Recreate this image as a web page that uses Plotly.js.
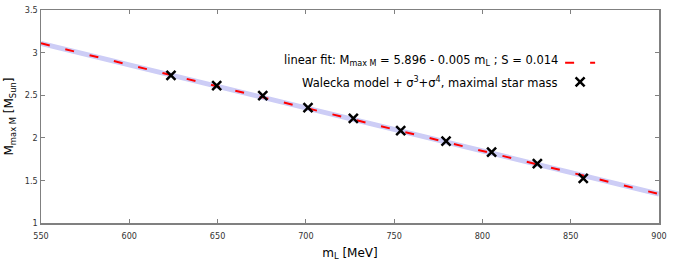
<!DOCTYPE html>
<html>
<head>
<meta charset="utf-8">
<script src="https://cdn.plot.ly/plotly-3.0.1.min.js"></script>
<style>html,body{margin:0;padding:0;background:#fff;}#chart{width:673px;height:269px;}</style>
</head>
<body>
<div id="chart"></div>
<script>
// Data
const mL = [623.6, 649.5, 675.6, 701.2, 726.9, 753.7, 779.4, 805.2, 831.1, 857.1];
const mMax = [2.733, 2.611, 2.494, 2.353, 2.229, 2.083, 1.962, 1.833, 1.696, 1.525];
const fitX = [550, 900];
const fitY = [3.109, 1.340];
const xTicks = [550, 600, 650, 700, 750, 800, 850, 900];
const yTicks = [1, 1.5, 2, 2.5, 3, 3.5];
const fitLabel = 'linear fit: M<sub>max M</sub> = 5.896 - 0.005 m<sub>L</sub> ; S = 0.014';
const pointLabel = 'Walecka model + σ<sup>3</sup>+σ<sup>4</sup>, maximal star mass';

const axisCommon = {
  showgrid: false, zeroline: false,
  showline: true, linecolor: '#808080', linewidth: 1.5, mirror: 'ticks',
  ticks: 'inside', ticklen: 4, tickcolor: '#808080', tickwidth: 1,
  tickfont: {family: 'DejaVu Sans Condensed, DejaVu Sans', size: 9, color: '#333'}
};

const traces = [
  {x: fitX, y: fitY, mode: 'lines', line: {color: '#cdcdf6', width: 5}, showlegend: false, hoverinfo: 'skip'},
  {x: fitX, y: fitY, mode: 'lines', name: ' ', line: {color: '#ff0000', width: 2, dash: '9px,16px'}},
  {x: mL, y: mMax, mode: 'markers', name: ' ',
   marker: {symbol: 'x-thin-open', size: 9, color: '#000', line: {color: '#000', width: 2.5}}}
];

const layout = {
  width: 673, height: 269,
  margin: {l: 41, r: 14, t: 10, b: 46},
  paper_bgcolor: '#fff', plot_bgcolor: '#fff',
  font: {family: 'DejaVu Sans, Liberation Sans', color: '#000'},
  xaxis: Object.assign({}, axisCommon, {
    range: [550, 900], tickvals: xTicks, ticktext: xTicks.map(String), ticklabelstandoff: 4,
    title: {text: 'm<sub>L</sub> [MeV]', font: {size: 12, color: '#000'}, standoff: 8}
  }),
  yaxis: Object.assign({}, axisCommon, {
    range: [1, 3.5], tickvals: yTicks, ticktext: yTicks.map(String),
    title: {text: 'M<sub>max M</sub> [M<sub>Sun</sub>]', font: {size: 12, color: '#000'}, standoff: 8}
  }),
  showlegend: true,
  legend: {x: 0.84, y: 0.82, xanchor: 'left', yanchor: 'top', bgcolor: 'rgba(0,0,0,0)',
           font: {size: 12}, itemwidth: 30, tracegroupgap: 0},
  annotations: [
    {xref: 'paper', yref: 'paper', x: 0.84, y: 0.765, xanchor: 'right', yanchor: 'middle',
     text: fitLabel, showarrow: false, font: {family: 'DejaVu Sans', size: 11.5, color: '#000'}},
    {xref: 'paper', yref: 'paper', x: 0.84, y: 0.66, xanchor: 'right', yanchor: 'middle',
     text: pointLabel, showarrow: false, font: {family: 'DejaVu Sans', size: 11.5, color: '#000'}}
  ]
};

Plotly.newPlot('chart', traces, layout, {displayModeBar: false, staticPlot: true});
</script>
</body>
</html>
